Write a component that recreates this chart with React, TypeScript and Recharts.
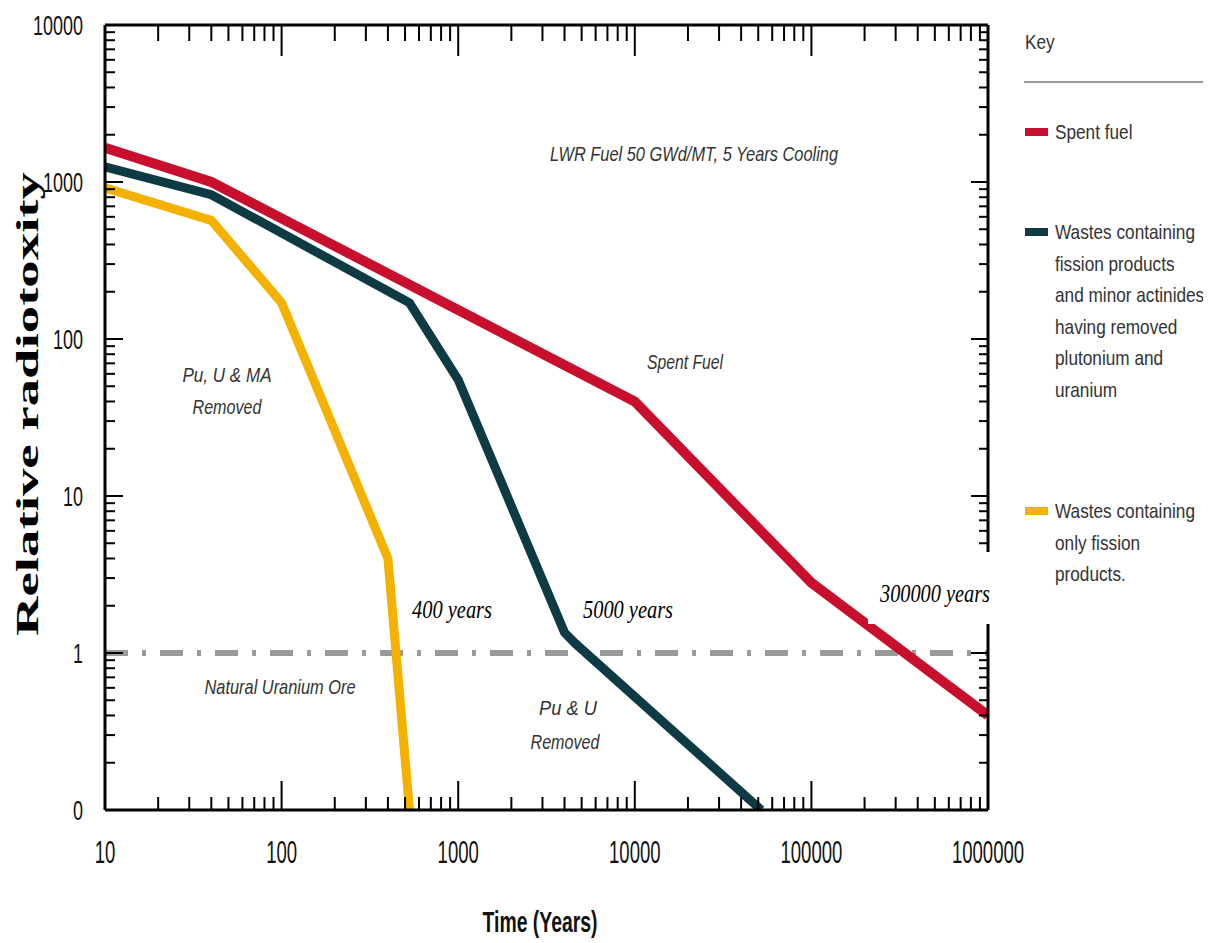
import React from 'react';
import { LineChart, Line, XAxis, YAxis, ReferenceLine } from 'recharts';

// time (years) vs relative radiotoxicity
const spentFuel = [
  { t: 10, r: 1650 },
  { t: 40, r: 1000 },
  { t: 10000, r: 40 },
  { t: 100000, r: 2.8 },
  { t: 1000000, r: 0.4 },
];
const fissionAndMA = [
  { t: 10, r: 1250 },
  { t: 40, r: 830 },
  { t: 530, r: 170 },
  { t: 1000, r: 55 },
  { t: 4000, r: 1.35 },
  { t: 4600, r: 1.15 },
  { t: 52000, r: 0.1 },
];
const fissionOnly = [
  { t: 10, r: 920 },
  { t: 40, r: 570 },
  { t: 100, r: 170 },
  { t: 400, r: 4 },
  { t: 530, r: 0.1 },
];

const xDecades = [10, 100, 1000, 10000, 100000, 1000000];
const yDecades = [0.1, 1, 10, 100, 1000, 10000];
const minorSteps = [2, 3, 4, 5, 6, 7, 8, 9];
const uraniumOre = 1;

const withMinors = (dec: number[]) =>
  dec.flatMap((d, i) =>
    i < dec.length - 1 ? [d, ...minorSteps.map((m) => +(d * m).toPrecision(3))] : [d]
  );
const xTicks = withMinors(xDecades);
const yTicks = withMinors(yDecades);

const RED = '#c8102e';
const TEAL = '#0e3b43';
const YELLOW = '#f5b100';
const SANS = "'Liberation Sans', Arial, sans-serif";
const SERIF = "'Liberation Serif', 'Times New Roman', serif";

const W = 1203;
const H = 935;
const margin = { top: 16, right: 222, bottom: 132, left: 96 };

const isMajorX = (v: number) => xDecades.includes(v);
const isMajorY = (v: number) => yDecades.includes(v);

const BottomTick = (props: any) => {
  const { x, y, payload } = props;
  const major = isMajorX(payload.value);
  const label = String(payload.value);
  return (
    <g>
      <line x1={x} x2={x} y1={y} y2={y - (major ? 29 : 13)} stroke="#000" strokeWidth={2} />
      {major && (
        <text
          x={x}
          y={y + 53}
          textAnchor="middle"
          fontFamily={SANS}
          fontSize={32}
          fill="#111"
          textLength={label.length * 10.3}
          lengthAdjust="spacingAndGlyphs"
        >
          {label}
        </text>
      )}
    </g>
  );
};

const TopTick = (props: any) => {
  const { x, y, payload } = props;
  const major = isMajorX(payload.value);
  return <line x1={x} x2={x} y1={y} y2={y + (major ? 31 : 16)} stroke="#000" strokeWidth={2} />;
};

const LeftTick = (props: any) => {
  const { x, y, payload } = props;
  const major = isMajorY(payload.value);
  const label = payload.value < 1 ? '0' : String(payload.value);
  return (
    <g>
      <line x1={x} x2={x + (major ? 18 : 10)} y1={y} y2={y} stroke="#000" strokeWidth={2} />
      {major && (
        <text
          x={x - 22}
          y={y + 10}
          textAnchor="end"
          fontFamily={SANS}
          fontSize={28}
          fill="#111"
          textLength={label.length * 10}
          lengthAdjust="spacingAndGlyphs"
        >
          {label}
        </text>
      )}
    </g>
  );
};

const RightTick = (props: any) => {
  const { x, y, payload } = props;
  const major = isMajorY(payload.value);
  return <line x1={x} x2={x - (major ? 17 : 9)} y1={y} y2={y} stroke="#000" strokeWidth={2} />;
};

const Note = ({ x, y, w, children, serif }: any) => (
  <text
    x={x}
    y={y}
    textAnchor="middle"
    fontFamily={serif ? SERIF : SANS}
    fontStyle="italic"
    fontSize={serif ? 26 : 21}
    fill={serif ? '#000' : '#333'}
    textLength={w}
    lengthAdjust="spacingAndGlyphs"
  >
    {children}
  </text>
);

// condensed legend text: plain font squeezed horizontally
const KeyText = ({ x, y, children }: any) => (
  <text
    transform={`translate(${x}, ${y}) scale(0.82, 1)`}
    fontFamily={SANS}
    fontSize={21}
    fill="#333"
  >
    {children}
  </text>
);

const keyItems = [
  { color: RED, lines: ['Spent fuel'] },
  {
    color: TEAL,
    lines: [
      'Wastes containing',
      'fission products',
      'and minor actinides',
      'having removed',
      'plutonium and',
      'uranium',
    ],
  },
  { color: YELLOW, lines: ['Wastes containing', 'only fission', 'products.'] },
];
const keyRowY = [124, 224, 503];

export default function App() {
  const axisLine = { stroke: '#000', strokeWidth: 3 };
  return (
    <div style={{ position: 'relative', width: W, height: H }}>
      <LineChart width={W} height={H} margin={margin}>
        <XAxis
          dataKey="t"
          type="number"
          scale="log"
          domain={[10, 1000000]}
          allowDataOverflow
          ticks={xTicks}
          interval={0}
          height={1}
          tickSize={0}
          tickMargin={0}
          tickLine={false}
          axisLine={axisLine}
          tick={<BottomTick />}
        />
        <XAxis
          xAxisId="top"
          orientation="top"
          dataKey="t"
          type="number"
          scale="log"
          domain={[10, 1000000]}
          allowDataOverflow
          ticks={xTicks}
          interval={0}
          height={1}
          tickSize={0}
          tickMargin={0}
          tickLine={false}
          axisLine={axisLine}
          tick={<TopTick />}
        />
        <YAxis
          type="number"
          scale="log"
          domain={[0.1, 10000]}
          allowDataOverflow
          ticks={yTicks}
          interval={0}
          width={1}
          tickSize={0}
          tickMargin={0}
          tickLine={false}
          axisLine={axisLine}
          tick={<LeftTick />}
        />
        <YAxis
          yAxisId="right"
          orientation="right"
          type="number"
          scale="log"
          domain={[0.1, 10000]}
          allowDataOverflow
          ticks={yTicks}
          interval={0}
          width={1}
          tickSize={0}
          tickMargin={0}
          tickLine={false}
          axisLine={axisLine}
          tick={<RightTick />}
        />
        <ReferenceLine
          y={uraniumOre}
          stroke="#9a9a9a"
          strokeWidth={6}
          strokeDasharray="23 14 4 14"
        />
        <Line data={spentFuel} dataKey="r" stroke={RED} strokeWidth={10} dot={false} isAnimationActive={false} />
        <Line data={fissionAndMA} dataKey="r" stroke={TEAL} strokeWidth={9} dot={false} isAnimationActive={false} />
        <Line data={fissionOnly} dataKey="r" stroke={YELLOW} strokeWidth={9} dot={false} isAnimationActive={false} />
      </LineChart>
      <svg
        width={W}
        height={H}
        style={{ position: 'absolute', left: 0, top: 0, pointerEvents: 'none' }}
      >
        <Note x={686} y={153} w={288}>LWR Fuel 50 GWd/MT, 5 Years Cooling</Note>
        <Note x={677} y={361} w={76}>Spent Fuel</Note>
        <Note x={219} y={374} w={89}>Pu, U &amp; MA</Note>
        <Note x={219} y={406} w={69}>Removed</Note>
        <Note x={272} y={686} w={151}>Natural Uranium Ore</Note>
        <Note x={560} y={707} w={58}>Pu &amp; U</Note>
        <Note x={557} y={741} w={69}>Removed</Note>
        <Note x={444} y={610} w={80} serif>400 years</Note>
        <Note x={620} y={610} w={90} serif>5000 years</Note>
        <rect x={860} y={544} width={130} height={72} fill="#fff" />
        <Note x={927} y={594} w={110} serif>300000 years</Note>

        <text
          transform="rotate(-90, 30, 396)"
          x={30}
          y={396}
          textAnchor="middle"
          fontFamily={SERIF}
          fontWeight="bold"
          fontSize={32}
          fill="#000"
          textLength={464}
          lengthAdjust="spacingAndGlyphs"
        >
          Relative radiotoxity
        </text>
        <text
          x={532}
          y={924}
          textAnchor="middle"
          fontFamily={SANS}
          fontWeight="bold"
          fontSize={30}
          fill="#111"
          textLength={115}
          lengthAdjust="spacingAndGlyphs"
        >
          Time (Years)
        </text>

        <KeyText x={1017} y={41}>Key</KeyText>
        <line x1={1016} x2={1199} y1={74} y2={74} stroke="#999" strokeWidth={2} />
        {keyItems.map((k, n) => (
          <g key={k.color}>
            <rect x={1017} y={keyRowY[n] - 4} width={23} height={8} fill={k.color} />
            {k.lines.map((l, i) => (
              <KeyText key={l} x={1047} y={keyRowY[n] + 7 + i * 31.5}>
                {l}
              </KeyText>
            ))}
          </g>
        ))}
      </svg>
    </div>
  );
}
